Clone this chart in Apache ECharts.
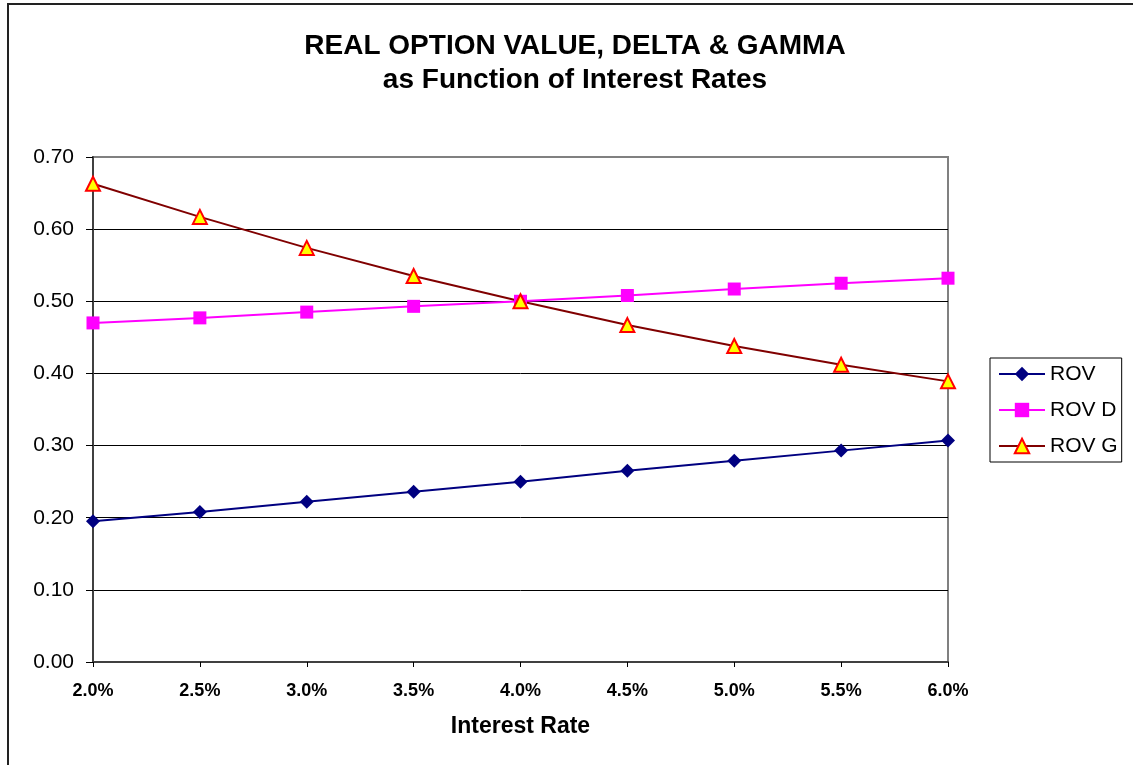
<!DOCTYPE html>
<html>
<head>
<meta charset="utf-8">
<script src="https://cdn.jsdelivr.net/npm/echarts@6/dist/echarts.min.js"></script>
<style>
  html, body { margin: 0; padding: 0; background: #fff; }
  #chart { width: 1133px; height: 765px; }
</style>
</head>
<body>
<div id="chart"></div>
<script>
// data
const rates = ['2.0%', '2.5%', '3.0%', '3.5%', '4.0%', '4.5%', '5.0%', '5.5%', '6.0%']
const rov = [0.195, 0.208, 0.222, 0.236, 0.250, 0.265, 0.279, 0.293, 0.307]
const rovD = [0.470, 0.477, 0.485, 0.493, 0.500, 0.508, 0.517, 0.525, 0.532]
const rovG = [0.663, 0.617, 0.574, 0.535, 0.500, 0.467, 0.438, 0.412, 0.389]

const font = '"Liberation Sans", Arial, sans-serif'

function renderChart() {
  const chart = echarts.init(document.getElementById('chart'))
  const option = {
    animation: false,
    textStyle: { fontFamily: font, color: '#000' },
    title: {
      text: 'REAL OPTION VALUE, DELTA & GAMMA\nas Function of Interest Rates',
      left: 575,
      top: 29,
      padding: 0,
      textAlign: 'center',
      textStyle: { fontFamily: font, fontSize: 28, fontWeight: 'bold', lineHeight: 34, color: '#000' }
    },
    graphic: [
      {
        type: 'rect',
        shape: { x: 8, y: 4, width: 1200, height: 800 },
        style: { fill: 'none', stroke: '#222', lineWidth: 2 },
        silent: true
      }
    ],
    legend: {
      orient: 'vertical',
      left: 990,
      top: 358,
      padding: [5, 4, 5, 8],
      itemWidth: 46,
      itemHeight: 18,
      itemGap: 14,
      borderColor: '#000',
      borderWidth: 1,
      textStyle: { fontFamily: font, fontSize: 21, lineHeight: 22, color: '#000' },
      data: ['ROV', 'ROV D', 'ROV G']
    },
    grid: {
      left: 93,
      right: 185,
      top: 157,
      bottom: 103,
      show: true,
      borderColor: '#808080',
      borderWidth: 2
    },
    xAxis: {
      type: 'category',
      data: rates,
      boundaryGap: false,
      name: 'Interest Rate',
      nameLocation: 'middle',
      nameGap: 53,
      nameTextStyle: { fontFamily: font, fontSize: 23, fontWeight: 'bold', color: '#000' },
      axisLine: { lineStyle: { color: '#404040', width: 2 } },
      axisTick: { show: true, length: 5, lineStyle: { color: '#000', width: 1 } },
      axisLabel: { fontFamily: font, fontSize: 18, fontWeight: 'bold', color: '#000', margin: 20 },
      splitLine: { show: false }
    },
    yAxis: {
      type: 'value',
      min: 0,
      max: 0.7,
      interval: 0.1,
      axisLine: { show: true, lineStyle: { color: '#404040', width: 2 } },
      axisTick: { show: true, length: 7, lineStyle: { color: '#000', width: 1 } },
      axisLabel: {
        fontFamily: font,
        fontSize: 21,
        color: '#000',
        margin: 19,
        formatter: v => v.toFixed(2)
      },
      splitLine: { show: true, showMaxLine: false, lineStyle: { color: '#000', width: 1 } }
    },
    series: [
      {
        name: 'ROV',
        type: 'line',
        data: rov,
        symbol: 'diamond',
        symbolSize: 14,
        lineStyle: { color: '#000080', width: 2 },
        itemStyle: { color: '#000080' }
      },
      {
        name: 'ROV D',
        type: 'line',
        data: rovD,
        symbol: 'rect',
        symbolSize: 13,
        lineStyle: { color: '#ff00ff', width: 2 },
        itemStyle: { color: '#ff00ff' }
      },
      {
        name: 'ROV G',
        type: 'line',
        data: rovG,
        symbol: 'triangle',
        symbolSize: 14,
        lineStyle: { color: '#800000', width: 2 },
        itemStyle: { color: '#ffff00', borderColor: '#ff0000', borderWidth: 2 }
      }
    ]
  }
  chart.setOption(option)
}

document.addEventListener('DOMContentLoaded', renderChart)
</script>
</body>
</html>
